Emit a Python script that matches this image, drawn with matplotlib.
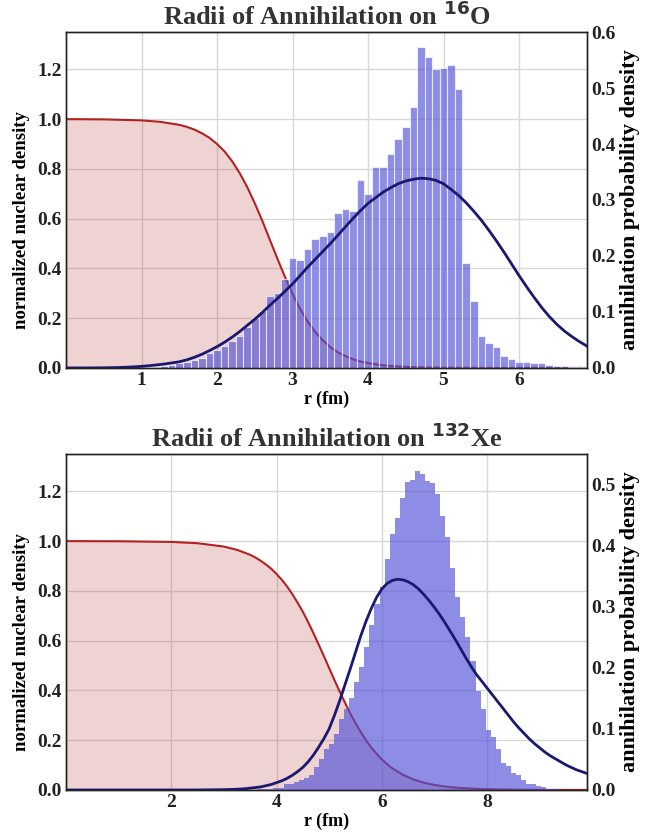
import numpy as np
import matplotlib.pyplot as plt

plt.rcParams['font.family'] = ['Liberation Serif', 'DejaVu Serif']
plt.rcParams['font.weight'] = 'bold'
plt.rcParams['axes.labelweight'] = 'bold'
plt.rcParams['mathtext.fontset'] = 'dejavusans'

# ---------------- 16O ----------------
o_r = [0.0, 0.5, 1.0, 1.25, 1.5, 1.6, 1.7, 1.8, 1.9, 2.0, 2.1, 2.2, 2.3, 2.4, 2.5, 2.6,
       2.7, 2.8, 2.9, 3.0, 3.1, 3.2, 3.3, 3.4, 3.5, 3.6, 3.7, 3.8, 3.9, 4.0, 4.2, 4.4,
       4.6, 4.8, 5.0, 5.5, 6.0, 6.95]
o_nuc = [1.0, 0.999, 0.995, 0.989, 0.977, 0.969, 0.958, 0.943, 0.925, 0.900, 0.870, 0.831,
         0.783, 0.727, 0.662, 0.591, 0.515, 0.439, 0.366, 0.298, 0.238, 0.187, 0.145, 0.111,
         0.084, 0.063, 0.048, 0.035, 0.026, 0.0196, 0.0107, 0.0058, 0.0032, 0.0017, 0.0009,
         0.0002, 0.0, 0.0]

o_r_ann = [0.0, 0.3, 0.5, 0.7, 0.9, 1.0, 1.1, 1.2, 1.3, 1.4, 1.5, 1.6, 1.7, 1.8, 1.9,
           2.0, 2.1, 2.2, 2.3, 2.4, 2.5, 2.6, 2.7, 2.8, 2.9, 3.0, 3.1, 3.2, 3.3, 3.4,
           3.5, 3.6, 3.7, 3.8, 3.9, 4.0, 4.1, 4.2, 4.3, 4.4, 4.5, 4.6, 4.7, 4.8, 4.9,
           5.0, 5.1, 5.2, 5.3, 5.4, 5.5, 5.6, 5.7, 5.8, 5.9, 6.0, 6.1, 6.2, 6.3, 6.4,
           6.5, 6.6, 6.7, 6.8, 6.9, 6.95]
o_ann = [0.0, 0.0001, 0.0003, 0.0008, 0.002, 0.003, 0.004, 0.0055, 0.007, 0.009, 0.011,
         0.0145, 0.019, 0.0245, 0.031, 0.038, 0.046, 0.055, 0.065, 0.076, 0.087, 0.099,
         0.112, 0.124, 0.137, 0.150, 0.165, 0.180, 0.194, 0.208, 0.222, 0.237, 0.252,
         0.267, 0.281, 0.294, 0.304, 0.314, 0.322, 0.329, 0.334, 0.337, 0.339, 0.338,
         0.335, 0.329, 0.319, 0.308, 0.295, 0.280, 0.264, 0.246, 0.227, 0.207, 0.186,
         0.165, 0.145, 0.126, 0.108, 0.092, 0.078, 0.066, 0.056, 0.047, 0.039, 0.036]

o_bin_start = 1.05
o_bin_width = 0.1
o_hist = [0.001, 0.002, 0.004, 0.006, 0.0095, 0.011, 0.014, 0.018, 0.026, 0.032,
          0.039, 0.049, 0.057, 0.074, 0.089, 0.102, 0.129, 0.133, 0.159, 0.196,
          0.192, 0.2125, 0.230, 0.236, 0.243, 0.277, 0.284, 0.280, 0.336, 0.311,
          0.3595, 0.3595, 0.382, 0.409, 0.430, 0.466, 0.574, 0.556, 0.534, 0.535,
          0.541, 0.498, 0.188, 0.1196, 0.0577, 0.044, 0.037, 0.0214, 0.016, 0.010,
          0.010, 0.009, 0.009, 0.005, 0.003, 0.003, 0.002, 0.002, 0.001]

# ---------------- 132Xe ----------------
xe_r = [0.0, 1.0, 2.0, 2.5, 3.0, 3.25, 3.5, 3.6, 3.7, 3.8, 3.9, 4.0, 4.1, 4.2, 4.3, 4.4,
        4.5, 4.6, 4.7, 4.8, 4.9, 5.0, 5.1, 5.2, 5.3, 5.4, 5.5, 5.6, 5.7, 5.8, 5.9, 6.0,
        6.1, 6.2, 6.4, 6.6, 6.8, 7.0, 7.2, 7.4, 7.8, 8.2, 8.6, 9.0, 9.9]
xe_nuc = [1.0, 0.9995, 0.9968, 0.9916, 0.978, 0.965, 0.945, 0.934, 0.921, 0.906, 0.889,
          0.868, 0.845, 0.818, 0.787, 0.753, 0.716, 0.675, 0.631, 0.585, 0.538, 0.490,
          0.442, 0.396, 0.351, 0.308, 0.269, 0.233, 0.200, 0.171, 0.146, 0.123, 0.104,
          0.087, 0.061, 0.0425, 0.029, 0.020, 0.0138, 0.0094, 0.0044, 0.002, 0.0009,
          0.0004, 0.0001]

xe_r_ann = [0.0, 2.5, 3.0, 3.2, 3.4, 3.5, 3.6, 3.7, 3.8, 3.9, 4.0, 4.1, 4.2, 4.3, 4.4,
            4.5, 4.6, 4.7, 4.8, 4.9, 5.0, 5.1, 5.2, 5.3, 5.4, 5.5, 5.6, 5.7, 5.8, 5.9,
            6.0, 6.1, 6.2, 6.3, 6.4, 6.5, 6.6, 6.7, 6.8, 6.9, 7.0, 7.1, 7.2, 7.3, 7.4,
            7.5, 7.6, 7.7, 7.8, 7.9, 8.0, 8.1, 8.2, 8.3, 8.4, 8.5, 8.6, 8.7, 8.8, 8.9,
            9.0, 9.1, 9.2, 9.3, 9.4, 9.5, 9.6, 9.7, 9.8, 9.9]
xe_ann = [0.0, 0.0, 0.0005, 0.001, 0.002, 0.003, 0.004, 0.005, 0.007, 0.009, 0.012,
          0.015, 0.019, 0.024, 0.030, 0.037, 0.046, 0.057, 0.070, 0.084, 0.100, 0.122,
          0.146, 0.172, 0.198, 0.225, 0.252, 0.276, 0.297, 0.315, 0.329, 0.338, 0.343,
          0.345, 0.344, 0.341, 0.336, 0.329, 0.320, 0.310, 0.299, 0.287, 0.274, 0.260,
          0.246, 0.231, 0.216, 0.202, 0.189, 0.178, 0.167, 0.156, 0.145, 0.134, 0.123,
          0.112, 0.102, 0.093, 0.084, 0.076, 0.069, 0.062, 0.056, 0.051, 0.046, 0.041,
          0.037, 0.033, 0.030, 0.027]

xe_bin_start = 3.654
xe_bin_width = 0.096
xe_hist = [0.001, 0.001, 0.002, 0.0036, 0.0036, 0.009, 0.009, 0.0128, 0.0155, 0.020,
           0.0237, 0.037, 0.051, 0.067, 0.0755, 0.0918, 0.116, 0.1327, 0.15, 0.176,
           0.2007, 0.2345, 0.2704, 0.305, 0.3325, 0.378, 0.4196, 0.445, 0.4785, 0.504,
           0.507, 0.522, 0.518, 0.5057, 0.502, 0.484, 0.4485, 0.414, 0.364, 0.316,
           0.2835, 0.25, 0.2116, 0.1626, 0.1327, 0.098, 0.0874, 0.067, 0.0444, 0.040,
           0.028, 0.0237, 0.0167, 0.009, 0.009, 0.0057, 0.0046, 0.002, 0.001, 0.001, 0.0005]

RED = '#b22222'
NAVY = '#191970'
BARS = '#5050d8'


def panel(rect, title, r, nuc, r_ann, ann, b0, bw, hist, xmax, xticks, y2max, y2ticks, edge):
    ax = fig.add_axes(rect)
    ax.fill_between(r, nuc, color=RED, alpha=0.2, lw=0)
    ax.plot(r, nuc, color=RED, lw=1.5)
    ax.set_xlim(0, xmax)
    ax.set_ylim(0, 1.35)
    ax.set_xticks(xticks)
    ax.set_yticks([0.0, 0.2, 0.4, 0.6, 0.8, 1.0, 1.2])
    ax.set_yticklabels(['0.0', '0.2', '0.4', '0.6', '0.8', '1.0', '1.2'])
    ax.grid(True, color='#d8d8d8', lw=1)
    ax.set_axisbelow(True)
    ax.set_xlabel('r (fm)', fontsize=13, fontweight='bold', labelpad=1)
    ax.set_ylabel('normalized nuclear density', fontsize=13.5, fontweight='bold')
    ax.yaxis.set_label_coords(-0.07, 0.44)
    ax.set_title(title, fontsize=19, fontweight='bold', color='#333333', pad=5)

    ax2 = ax.twinx()
    edges = b0 + bw * np.arange(len(hist))
    ax2.bar(edges, hist, width=bw, align='edge', color=BARS, alpha=0.65,
            edgecolor='white' if edge else 'none', linewidth=0.8 if edge else 0)
    ax2.plot(r_ann, ann, color=NAVY, lw=2)
    ax2.set_ylim(0, y2max)
    ax2.set_yticks(y2ticks)
    ax2.set_yticklabels(['%.1f' % v for v in y2ticks])
    ax2.set_ylabel('annihilation probability density', fontsize=16, fontweight='bold',
                   labelpad=3)

    for a in (ax, ax2):
        a.tick_params(length=0, labelsize=14, pad=3, colors='#222222')
        for s in a.spines.values():
            s.set_color('#222222')
            s.set_linewidth(1)
    return ax


fig = plt.figure(figsize=(6.6, 8.34), dpi=100)

panel([0.1, 0.5588, 0.7894, 0.4028], r'Radii of Annihilation on $^{\mathbf{16}}$O',
      o_r, o_nuc, o_r_ann, o_ann, o_bin_start, o_bin_width, o_hist,
      6.9, [1, 2, 3, 4, 5, 6], 0.6, [0.0, 0.1, 0.2, 0.3, 0.4, 0.5, 0.6], True)

panel([0.1, 0.0528, 0.7894, 0.4028], r'Radii of Annihilation on $^{\mathbf{132}}$Xe',
      xe_r, xe_nuc, xe_r_ann, xe_ann, xe_bin_start, xe_bin_width, xe_hist,
      9.9, [2, 4, 6, 8], 0.55, [0.0, 0.1, 0.2, 0.3, 0.4, 0.5], False)

fig.savefig('out.png', dpi=100)
